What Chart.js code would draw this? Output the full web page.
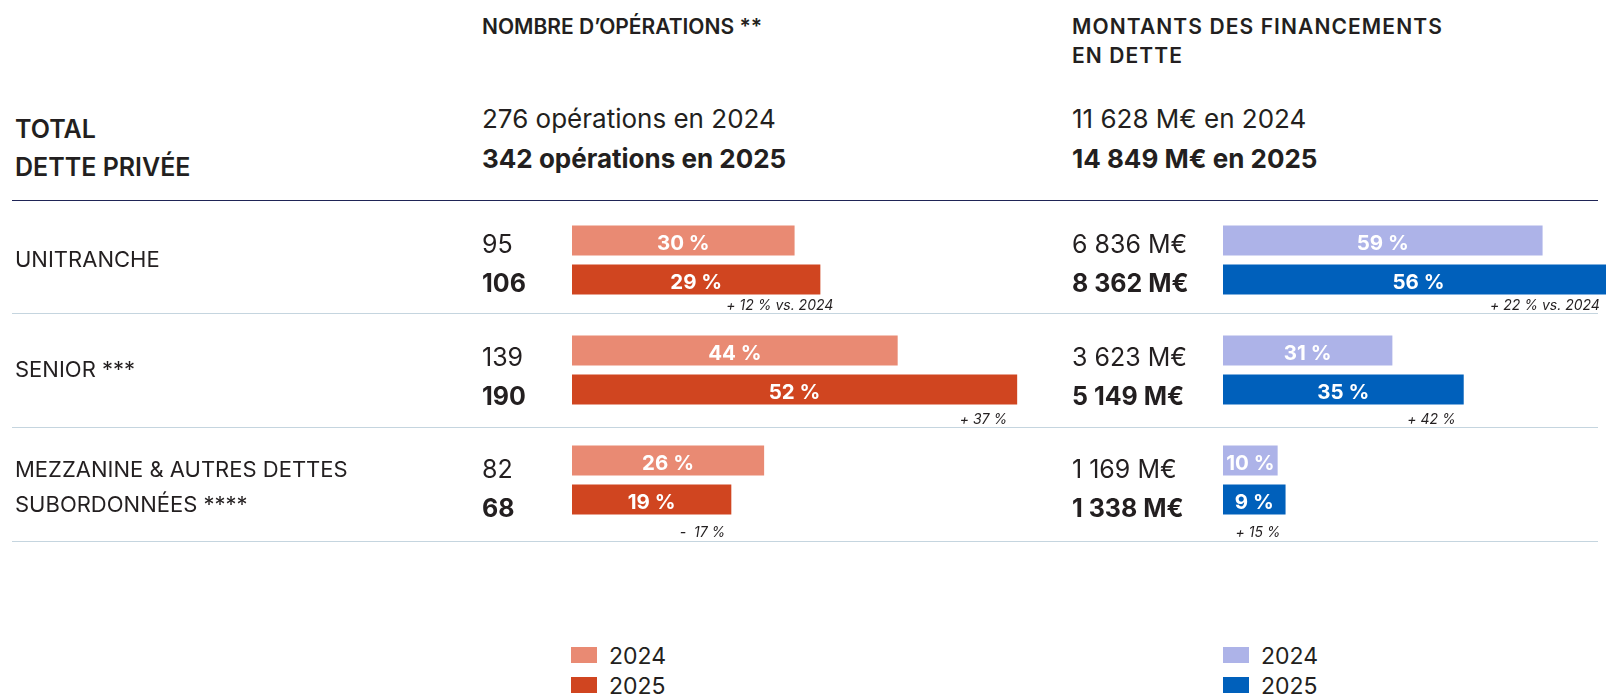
<!DOCTYPE html>
<html lang="fr">
<head>
<meta charset="utf-8">
<script src="https://cdn.jsdelivr.net/npm/chart.js@4.4.1/dist/chart.umd.min.js"></script>
<style>
  html, body { margin: 0; padding: 0; width: 1606px; height: 695px; overflow: hidden; background: #fff; }
  body { position: relative; font-family: Inter, "Noto Sans", sans-serif; color: #231f20; }
  .t { position: absolute; white-space: nowrap; transform: translateY(-50%); line-height: 1; }
  .titre { font-size: 21px; font-weight: 600; }
  .titre.large { letter-spacing: 1.1px; }
  .total { font-size: 25px; font-weight: 600; }
  .somme { font-size: 26px; font-weight: 400; }
  .somme.b { font-weight: 700; }
  .ligne { position: absolute; left: 12px; width: 1586px; height: 1.5px; background: #c5d5df; }
  .ligne.fonce { background: #1f2456; }
  canvas { position: absolute; }
  .carre { position: absolute; width: 26px; height: 16px; }
  .leg { position: absolute; font-size: 23px; line-height: 1; transform: translateY(-50%); }
</style>
</head>
<body>

<div class="t titre" style="left:482px; top:26px;">NOMBRE D’OPÉRATIONS **</div>
<div class="t titre large" style="left:1072px; top:26px;">MONTANTS DES FINANCEMENTS</div>
<div class="t titre large" style="left:1072px; top:55px;">EN DETTE</div>

<div class="t total" style="left:15px; top:129px;">TOTAL</div>
<div class="t total" style="left:15px; top:167px;">DETTE PRIVÉE</div>

<div class="t somme" id="ops2024" style="left:482px; top:119px;"></div>
<div class="t somme b" id="ops2025" style="left:482px; top:159px;"></div>
<div class="t somme" id="mnt2024" style="left:1072px; top:119px;"></div>
<div class="t somme b" id="mnt2025" style="left:1072px; top:159px;"></div>

<div class="ligne fonce" style="top:199.5px;"></div>
<div class="ligne" style="top:312.5px;"></div>
<div class="ligne" style="top:426.5px;"></div>
<div class="ligne" style="top:540.5px;"></div>

<canvas id="graphOperations" width="1052" height="350" style="left:0px; top:205px;"></canvas>
<canvas id="graphMontants" width="563" height="350" style="left:1060px; top:205px;"></canvas>

<div class="carre" style="left:571px; top:647px; background:#e98a73;"></div>
<div class="leg" id="legOps2024" style="left:609px; top:656px;"></div>
<div class="carre" style="left:571px; top:677px; background:#d04520;"></div>
<div class="leg" id="legOps2025" style="left:609px; top:686px;"></div>
<div class="carre" style="left:1223px; top:647px; background:#adb3e8;"></div>
<div class="leg" id="legMnt2024" style="left:1261px; top:656px;"></div>
<div class="carre" style="left:1223px; top:677px; background:#0060bb;"></div>
<div class="leg" id="legMnt2025" style="left:1261px; top:686px;"></div>

<script>
// Données
const annees = ["2024", "2025"];
const categories = ["UNITRANCHE", "SENIOR", "MEZZANINE"];
const libellesLignes = [["UNITRANCHE"], ["SENIOR ***"], ["MEZZANINE & AUTRES DETTES", "SUBORDONNÉES ****"]];

const totalOperations = [276, 342];
const totalMontants = [11628, 14849];

const operations2024 = [95, 139, 82];
const operations2025 = [106, 190, 68];
const partOperations2024 = [30, 44, 26];
const partOperations2025 = [29, 52, 19];
const variationOperations = ["+ 12 % vs. 2024", "+ 37 %", "-  17 %"];

const montants2024 = [6836, 3623, 1169];
const montants2025 = [8362, 5149, 1338];
const partMontants2024 = [59, 31, 10];
const partMontants2025 = [56, 35, 9];
const variationMontants = ["+ 22 % vs. 2024", "+ 42 %", "+ 15 %"];

function espaces(n) {
    return String(n).replace(/\B(?=(\d{3})+(?!\d))/g, " ");
}

function enMillions(n) {
    return espaces(n) + " M€";
}

document.getElementById("ops2024").textContent = totalOperations[0] + " opérations en " + annees[0];
document.getElementById("ops2025").textContent = totalOperations[1] + " opérations en " + annees[1];
document.getElementById("mnt2024").textContent = espaces(totalMontants[0]) + " M€ en " + annees[0];
document.getElementById("mnt2025").textContent = espaces(totalMontants[1]) + " M€ en " + annees[1];
document.getElementById("legOps2024").textContent = annees[0];
document.getElementById("legOps2025").textContent = annees[1];
document.getElementById("legMnt2024").textContent = annees[0];
document.getElementById("legMnt2025").textContent = annees[1];

const FONT = "Inter, 'Noto Sans', sans-serif";

// décalages verticaux (px) des textes par ligne du tableau
const decalageValeurs = [4.5, 8, 10];
const decalageNotes = [45.5, 49.5, 53];

// Etiquettes : % dans les barres, valeurs à gauche, variations sous les barres
const etiquettes = {
    id: "etiquettes",
    afterDatasetsDraw(chart, args, opts) {
        const ctx = chart.ctx;
        const yScale = chart.scales.y;

        ctx.save();
        ctx.textBaseline = "middle";

        // libellés des lignes
        if (opts.lignes) {
            ctx.fillStyle = "#231f20";
            ctx.font = "400 22px " + FONT;
            ctx.textAlign = "left";
            opts.lignes.forEach((lignes, j) => {
                const yc = yScale.getPixelForValue(j);
                lignes.forEach((txt, k) => {
                    const y = yc + k * 35.5 - (lignes.length - 1) * 12 + (lignes.length > 1 ? 2 : 0);
                    ctx.fillText(txt, 15, y);
                });
            });
        }

        chart.data.datasets.forEach((ds, i) => {
            const meta = chart.getDatasetMeta(i);
            meta.data.forEach((bar, j) => {
                const gauche = bar.base;
                const droite = bar.x;
                const haut = bar.y - bar.height / 2;

                ctx.save();
                ctx.beginPath();
                ctx.rect(gauche, haut, droite - gauche, bar.height);
                ctx.clip();
                ctx.fillStyle = "#ffffff";
                ctx.font = "700 20.5px " + FONT;
                ctx.textAlign = "center";
                ctx.fillText(opts.parts[i][j] + " %", (gauche + droite) / 2, bar.y + 3);
                ctx.restore();

                ctx.fillStyle = "#231f20";
                ctx.font = (i === 0 ? "400 " : "700 ") + "25px " + FONT;
                ctx.textAlign = "left";
                ctx.fillText(opts.format(ds.data[j]), opts.xValeur, bar.y + decalageValeurs[j]);

                if (i === 1) {
                    ctx.font = "italic 400 14px " + FONT;
                    ctx.textAlign = "right";
                    ctx.fillText(opts.variations[j], droite + opts.decalages[j],
                        yScale.getPixelForValue(j) + decalageNotes[j]);
                }
            });
        });

        ctx.restore();
    }
};

function creerGraphique(id, data2024, data2025, couleurs, max, padGauche, options) {
    return new Chart(document.getElementById(id).getContext("2d"), {
        type: "bar",
        data: {
            labels: categories,
            datasets: [
                { label: annees[0], data: data2024, backgroundColor: couleurs[0], borderWidth: 0 },
                { label: annees[1], data: data2025, backgroundColor: couleurs[1], borderWidth: 0 }
            ]
        },
        options: {
            indexAxis: "y",
            responsive: false,
            animation: false,
            events: [],
            layout: { padding: { left: padGauche, right: 0, top: 0, bottom: 20 } },
            categoryPercentage: 0.709,
            barPercentage: 0.769,
            scales: {
                x: { display: false, min: 0, max: max },
                y: { display: false }
            },
            plugins: {
                legend: { display: false },
                tooltip: { enabled: false },
                etiquettes: options
            }
        },
        plugins: [etiquettes]
    });
}

document.fonts.ready.then(() => {

    // Nombre d'opérations : 2.343 px par opération
    creerGraphique("graphOperations", operations2024, operations2025,
        ["#e98a73", "#d04520"], 480 / 2.343, 572, {
            parts: [partOperations2024, partOperations2025],
            variations: variationOperations,
            decalages: [13, -10, -6],
            format: v => String(v),
            xValeur: 482,
            lignes: libellesLignes
        });

    // Montants : 0.04675 px par M€
    creerGraphique("graphMontants", montants2024, montants2025,
        ["#adb3e8", "#0060bb"], 400 / 0.04675, 163, {
            parts: [partMontants2024, partMontants2025],
            variations: variationMontants,
            decalages: [-14, -8, -5],
            format: enMillions,
            xValeur: 12,
            lignes: null
        });
});
</script>
</body>
</html>
